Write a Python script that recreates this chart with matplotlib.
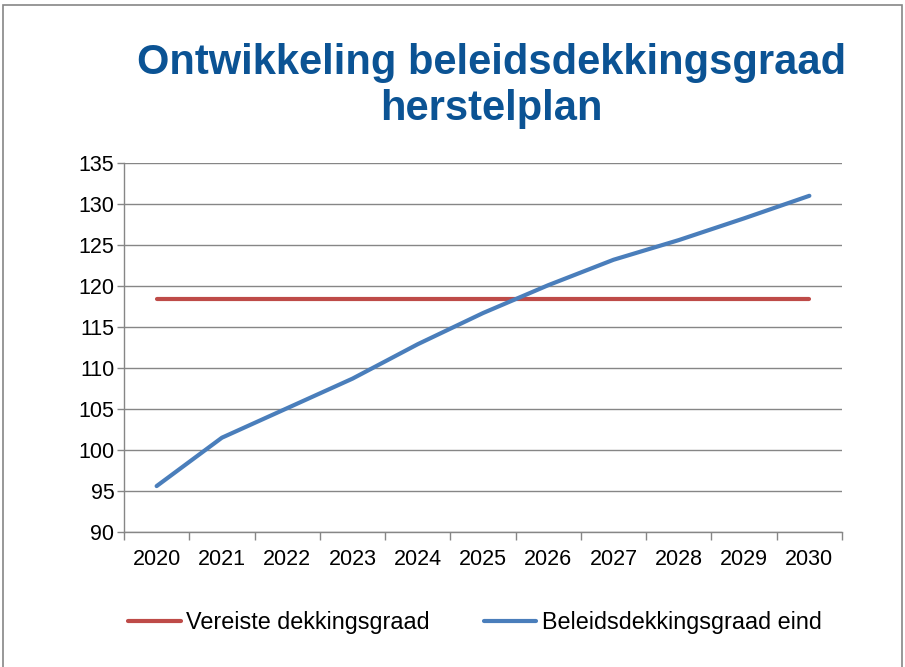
import matplotlib
matplotlib.use("Agg")
import matplotlib.pyplot as plt
from matplotlib.patches import Rectangle

years = ["2020", "2021", "2022", "2023", "2024", "2025", "2026", "2027", "2028", "2029", "2030"]
vereiste = [118.4] * 11
beleid = [95.6, 101.5, 105.1, 108.7, 112.9, 116.7, 120.1, 123.2, 125.6, 128.25, 131.0]
yticks = [90, 95, 100, 105, 110, 115, 120, 125, 130, 135]

plt.rcParams['font.family'] = ['Liberation Sans', 'DejaVu Sans']

fig = plt.figure(figsize=(9.05, 6.67), dpi=100)
ax = fig.add_axes([124/905, 1-532/667, (842-124)/905, (532-163)/667])

x = list(range(len(years)))
l1, = ax.plot(x, vereiste, color='#BE4B48', lw=3.0, solid_capstyle='round', label='Vereiste dekkingsgraad', zorder=3)
l2, = ax.plot(x, beleid, color='#4A7EBB', lw=3.0, solid_capstyle='round', label='Beleidsdekkingsgraad eind', zorder=4)

ax.set_xlim(-0.5, len(years) - 0.5)
ax.set_ylim(90, 135)
ax.set_yticks(yticks)
ax.set_yticklabels([str(v) for v in yticks])
ax.set_xticks(x)
ax.set_xticklabels(years)
ax.set_xticks([i - 0.5 for i in range(len(years) + 1)], minor=True)
ax.tick_params(axis='x', which='major', length=0, pad=12, labelsize=15.5)
ax.tick_params(axis='x', which='minor', length=6, width=1, color='#868686', direction='out')
ax.tick_params(axis='y', which='major', length=5, width=1, color='#868686', direction='out', pad=2, labelsize=15.5)
ax.grid(axis='y', color='#868686', lw=1)
ax.set_axisbelow(True)
for s in ['top', 'right']:
    ax.spines[s].set_visible(False)
for s in ['left', 'bottom']:
    ax.spines[s].set_color('#868686')
    ax.spines[s].set_linewidth(1)

fig.text(0.543, 1-63/667, 'Ontwikkeling beleidsdekkingsgraad', ha='center', va='center',
         fontsize=30, fontweight='bold', color='#0B5394')
fig.text(0.543, 1-109/667, 'herstelplan', ha='center', va='center',
         fontsize=30, fontweight='bold', color='#0B5394')

fig.legend(handles=[l1, l2], loc='center left', bbox_to_anchor=(107/905, 1-623/667),
           ncol=2, frameon=False, fontsize=16.8, handlelength=2.25, handletextpad=0.25,
           columnspacing=2.3)

fig.add_artist(Rectangle((3/905, -0.1), (902-3)/905, 1.1 - 5/667, transform=fig.transFigure,
                         fill=False, edgecolor='#868686', lw=1.2))

fig.savefig('out.png', dpi=100)
